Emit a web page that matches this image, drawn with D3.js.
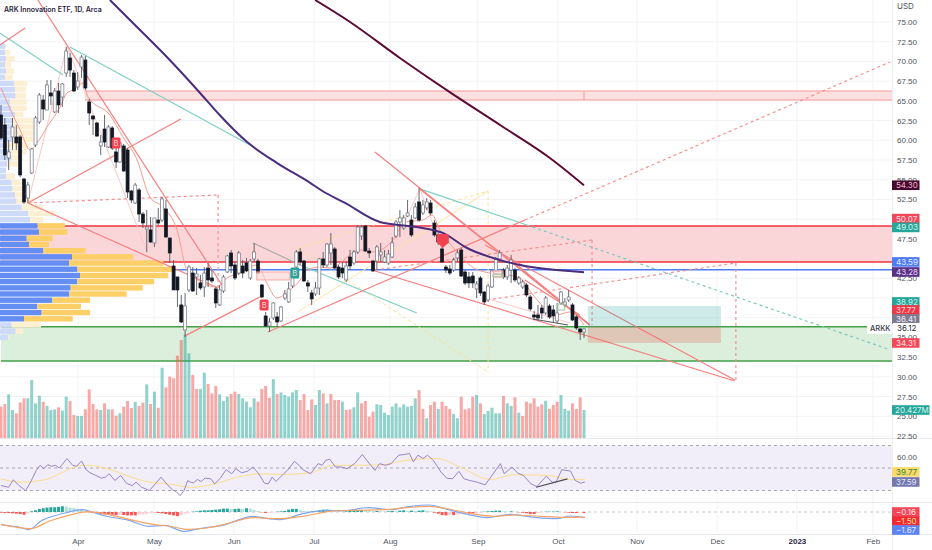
<!DOCTYPE html>
<html>
<head>
<meta charset="utf-8">
<script src="https://cdn.jsdelivr.net/npm/d3@7"></script>
<style>
  body { margin: 0; background: #fff; }
  svg { display: block; font-family: Inter, "Noto Sans", sans-serif; }
  .axis text { font-size: 8px; fill: #50535e; }
  .axis path, .axis line { display: none; }
</style>
</head>
<body>
<div id="chart"></div>
<script>
// Candles as [open, high, low, close]
const candles = [
  [63.21,64.48,60.04,60.29],[61.94,62.83,57.5,58.14],[57.76,60.04,56.23,58.52],[60.42,62.83,58.77,61.69],[60.42,61.94,58.77,59.66],
  [60.42,60.67,55.35,55.6],[55.09,55.22,51.92,52.18],[52.68,54.71,52.05,54.33],[55.85,59.02,55.73,58.9],[59.4,63.08,59.15,62.83],
  [62.32,66,62.07,65.74],[65.11,65.74,62.57,63.97],[63.84,67.65,63.84,67.01],[66,67.65,64.48,65.62],[63.59,66.63,63.46,66.25],
  [66.25,67.27,63.46,64.48],[65.49,67.27,64.22,67.14],[68.53,71.83,68.03,71.32],[70.43,71.07,68.03,68.91],[68.53,68.91,66.13,66.25],
  [66.76,68.66,66.38,67.52],[69.29,70.82,67.9,70.56],[70.18,70.69,66.38,66.63],[64.86,65.24,61.94,63.46],[63.08,63.21,60.67,62.7],
  [62.19,62.32,60.42,60.54],[59.28,60.67,58.14,59.78],[61.43,63.21,59.15,59.78],[59.15,61.94,59.02,61.69],[61.56,61.81,58.77,59.02],
  [58.52,59.15,56.49,57.25],[57.25,59.78,57.12,59.66],[59.28,59.53,55.98,56.11],[58.77,59.02,52.68,53.44],[53.57,53.7,52.05,52.43],
  [52.05,54.59,51.92,54.33],[53.7,53.95,49.64,50.65],[50.65,50.91,48.88,49.51],[48.75,51.16,45.84,49],[48.63,50.27,46.98,47.1],
  [46.98,50.15,46.47,50.15],[49.89,51.42,49.26,49.51],[49.89,52.81,49.64,52.56],[51.29,52.43,47.61,47.74],[47.61,47.61,44.44,45.71],
  [44.06,44.82,41.02,41.02],[42.67,42.67,38.86,41.02],[39.12,40.38,36.83,36.96],[35.95,40.64,35.06,38.99],[41.02,44.19,40.76,43.93],
  [43.17,43.93,40.76,40.89],[42.67,43.8,40.38,43.05],[41.91,42.92,41.02,41.27],[41.4,43.93,40.13,43.17],[43.8,44.44,41.4,42.29],
  [42.54,43.55,41.91,42.16],[41.15,41.4,38.73,39.37],[39.12,41.65,38.99,41.02],[40.89,42.92,40.64,42.67],[43.3,45.46,43.17,45.33],
  [45.71,46.09,43.17,44.06],[44.19,44.57,42.29,42.54],[43.17,45.96,42.92,45.71],[44.06,44.82,42.54,43.17],[44.44,45.08,43.3,43.43],
  [42.54,44.95,42.29,44.69],[44.95,46.98,44.57,45.84],[44.69,44.95,43.05,43.17],[41.65,41.78,40,40.13],[37.72,38.23,36.33,36.45],
  [36.45,37.47,35.69,36.96],[37.47,39.5,37.21,39.37],[37.6,38.23,36.33,36.96],[37.09,38.99,36.96,38.86],[40,41.02,39.75,40.51],
  [39.5,42.03,39.37,41.15],[41.52,42.92,41.27,42.79],[43.93,46.09,43.55,45.84],[45.84,46.34,44.19,44.57],[44.69,44.82,42.03,42.16],
  [41.91,42.29,40.76,41.52],[40.64,41.02,39.12,39.88],[40.51,42.03,40.26,41.27],[41.27,45.08,40.38,44.95],[44.95,45.84,43.8,44.19],
  [44.19,46.98,43.93,46.85],[45.71,48.25,44.19,46.85],[46.22,46.47,43.68,43.8],[43.93,44.19,42.41,42.67],[43.8,44.57,42.54,43.17],
  [42.29,44.57,42.03,44.06],[45.2,46.09,43.55,44.06],[44.44,46.09,44.19,45.84],[45.84,49.26,45.58,49],[47.86,49.26,47.36,49],
  [49.13,49.26,45.84,45.96],[45.96,46.34,45.08,45.71],[44.69,44.82,43.3,43.43],[44.69,46.72,43.55,46.47],[45.46,46.98,44.57,45.84],
  [44.57,46.09,44.44,45.2],[44.44,46.09,44.19,45.58],[45.2,47.74,45.08,46.98],[47.86,49.89,47.61,49.64],[49.64,51.16,47.74,50.15],
  [48.88,50.53,48.63,50.15],[50.4,52.43,50.27,50.78],[49.89,50.53,47.74,47.99],[50.15,52.05,50.02,51.54],[52.18,53.95,49.64,49.89],
  [50.78,52.43,50.53,51.8],[51.42,52.68,51.16,52.18],[52.05,52.43,50.53,50.78],[49.51,49.89,47.74,47.99],[47.99,48.25,46.72,47.1],
  [46.22,46.47,44.44,44.57],[43.93,44.19,43.17,43.55],[43.68,44.19,42.92,43.17],[43.55,45.08,43.3,44.82],[45.08,46.09,44.57,45.71],
  [46.09,46.34,42.66,42.79],[43.3,43.55,41.65,41.9],[42.67,43.3,41.27,41.91],[42.79,43.3,41.27,41.91],[41.15,42.16,40,41.78],
  [42.54,42.79,40.26,40.64],[40.76,40.89,39.12,39.5],[39.75,41.78,39.5,41.52],[41.4,43.55,41.27,43.43],[43.43,45.2,43.3,44.95],
  [44.95,46.09,44.57,45.71],[43.55,43.8,42.41,42.67],[42.67,44.19,42.29,43.8],[43.55,45.46,41.91,44.82],[43.55,43.8,42.03,42.29],
  [41.91,42.79,41.65,42.54],[41.4,42.29,41.15,42.03],[41.65,41.91,40.13,40.38],[40.13,40.38,38.36,38.61],[37.85,38.36,37.21,37.59],
  [37.85,39.12,37.09,37.47],[38.73,39.12,37.34,38.1],[38.1,40.26,37.85,40],[38.99,39.24,37.34,37.59],[38.48,39.12,36.96,37.72],
  [37.09,39.37,36.83,38.1],[39.37,40.89,39.12,40.76],[39.12,40,38.86,39.5],[39.75,41.02,39.5,40.13],[39.12,39.37,37.09,37.21],
  [37.6,37.85,35.95,36.2],[36.07,36.2,34.68,35.69],[35.69,36.2,34.93,36.07]
];

// Volume in millions, direction read separately (r = red, t = teal)
const volumes = [
  22.9,24.8,31.9,20.4,18,26,29,29,42.3,25.3,30.9,26.5,23.4,20.4,20.9,22.4,20,30.2,27,16.8,
  16.1,16.1,20.9,35.5,24.8,20.9,20.4,25.3,20.9,20.9,16.3,18,22.9,27,21.9,26.3,23.4,25.8,39.2,24.8,
  33.8,22.1,51.3,37,44.8,43.6,60.1,71.5,75.7,61.8,46,35.8,35.8,47.7,39.4,32.6,38,31.9,27,30.2,
  32.1,33.8,32.1,29,26.5,22.4,29,26.5,35.8,38,29.4,43,32.1,33.3,31.4,30.2,33.3,35,27.7,32.1,20.4,
  28.2,24.1,35,32.6,25.3,32.1,27.7,27.7,26.5,20.4,20.9,22.4,33.3,25.3,27,15.6,19.2,24.6,24.1,
  18.5,16.8,22.9,25.3,22.4,24.6,22.9,23.4,29,35,21.2,14.4,24.1,26.5,21.2,26.5,23.4,21.2,17.5,14.4,
  30.2,20.9,21.7,30.2,31.4,25.3,17.5,19.7,22.1,18,18,30.7,25.3,23.4,29.7,18.5,16.1,26.5,25.3,29,
  22.9,24.6,27.2,21.2,24.1,26.5,31.4,21.2,20,25.3,21.2,29.7,20.427
];
const volumeDir = ("rrttrrrttt" + "trtttrttrr" + "ttrrrrtrtr" + "rtrrrtrrtr" + "trtrrrrrtt" + "rrttrrrttt" + "rrtttttrrr" + "rtrtttttrr" + "r" +
  "rttrtrrrtr" + "rttrrrrttt" + "ttttttttr" + "rtrrtrrrtt" + "rrrrtrttttt" + "rttrtrrrrr" + "rtrrrtttrrrt").split("");

// Moving averages and the thin band line, [bar index, price]
const ma100Idx = [28.4,34.4,44,51.9,57,64.1,72,80.6,83.7,89.7,98.8,108.4,115.2,121.5,130,135.3,142.3,152];
const ma100 = [77.79,74.87,70.18,66,63.2,59.8,57.1,54.6,53.6,52.05,49.64,49,48.25,46.34,44.82,44.19,43.68,43.28];
const ma200Idx = [81.9,91,104,117,130.1,143.1,152];
const ma200 = [77.79,75,70.44,66.1,61.94,57.76,54.3];
const bandIdx = [0,3.1,5,7.6,9.4,12,15.4,17.2,19.3,21.4,22.7,28.4,31.8,35.5,38.8,42.2,45.9,48.5,56.3,58.9,62.3,66.7,69.3,71.9,75.3,78,79.8,83.2,85.8,93.6,97,102.2,105.3,110,112.4,114.4,117.8,124.3,135.3,138.7,144.9,148.3,152];
const band = [66.63,63.2,61.3,58.77,59.66,61.69,64.22,66,66.5,67.27,65.49,63.2,60.42,57.5,52.81,51.54,48.63,43.55,41.4,42.54,43.17,44.19,41.91,40,41,42.28,43.55,43.93,43.8,46.09,45.84,47.36,49.64,49.89,50.53,48.63,46.47,43.55,42.54,40.38,37.85,38.23,36.58];

// RSI pane
const rsiIdx = [0,2,3.2,4.7,6.4,7.7,9.2,10.2,11.2,12.2,13.2,14.2,15.2,17.2,18.7,19.7,21,22.2,23.2,24.7,26.2,27.2,28.2,29.7,31.2,32.7,34.2,35.2,36.7,38.7,40.2,41.7,43.2,44.7,45.7,46.7,47.7,48.7,49.4,50.2,51.2,52.2,53.2,54.7,55.7,57.2,58.7,60.2,61.2,62.7,64.2,65.7,67.2,68.7,69.7,70.7,71.7,73.7,74.7,76.5,77.7,78.7,80.7,82.7,83.7,84.7,85.7,87.2,88.7,90.2,92.2,94.2,95.7,97.5,98.7,100.2,101.7,103.7,105.2,106.5,107.5,108.7,110,111.2,112.7,114.7,116.2,117.7,119.4,120.7,122.2,124.2,126.2,127.7,130.2,131.2,133.2,134.7,136.2,138.2,139.7,142.2,143.7,144.7,146.2,147.2,148.5,149.7,151.2,152.2];
const rsi = [34.4,32.9,39.5,34.4,29.9,37.4,47.9,52.4,49.4,53,51.5,52.4,50,58.4,52.4,51.5,56.3,48.5,45.8,43.4,41,41.9,44.9,38.9,43.4,36.5,34.4,37.4,32.9,29.9,35.9,41.9,35.9,30.5,29,25.4,29.9,38.9,37.4,36.8,39.8,38,41,40.4,35.9,41,48.5,44.9,49.4,45.8,47,50.9,44.9,36.5,35.9,41.9,38,44.9,47.9,56,52.4,48.5,44.9,53.9,52.4,56.9,57.8,50.9,50.9,49.4,53.9,62,55.4,47.9,53.9,52.4,53.9,61.4,62,62.9,55.4,61.4,58.4,61.4,56.9,46.4,41,40.4,47,40.4,38.9,37.4,35,41.9,53.9,44.9,50.9,45.5,43.4,35.9,33.5,42.8,37.4,37.4,48.5,47.9,47.3,38.9,36.5,37.59];
const rsiMaIdx = [0,4.7,11.7,16.2,19.7,22.2,28.7,32.7,38.7,43.7,49.7,55.7,61.7,67.7,73.7,80.7,86.7,92.7,99.7,104.7,113.7,119.7,127.7,133.7,142.7,148.7,152.2];
const rsiMa = [40.4,37.4,39.8,46.4,51.5,52.4,48.5,43.4,37.4,35.9,32.9,35.9,41.9,44.9,44.3,45.8,52.4,52.4,53,56.3,58.4,50.9,39.8,44,43.4,39.5,39.77];
const rsiLevels = [70,50,30];
const rsiTrend = [[139.5,32.9],[147.7,40.4]];

// MACD pane
const macdIdx = [0,2.7,4.7,7.2,10.7,13.7,16.7,21.2,23.7,27.2,32.7,38.7,42.7,47.7,52.7,57.7,65.7,69.7,72.7,78.7,84.7,89.7,95.7,101.7,106.7,111.7,115.7,121.7,126.7,132.7,139.7,144.7,148.7,152.2];
const macd = [-3.72,-4.12,-4.41,-5.19,-2.45,-1.18,-0.29,0.69,0,-1.18,-2.25,-4.21,-3.92,-5.68,-4.7,-3.92,-1.27,-1.96,-2.25,-0.49,0.49,0.39,1.27,0.69,1.67,2.06,0.98,-0.69,-1.67,-0.69,-1.67,-1.96,-1.18,-1.67];
const signalIdx = [0,3.7,7.7,12.7,17.7,22.7,27.7,33.7,39.7,43.7,48.7,53.7,59.7,65.7,71.7,78.7,85.7,91.7,99.7,105.7,111.7,116.7,122.7,128.7,133.7,140.7,146.7,152.2];
const signal = [-3.63,-4.41,-4.9,-2.65,-0.98,0.1,-0.69,-2.25,-3.63,-4.12,-5.1,-4.7,-3.23,-1.67,-1.96,-1.27,0.2,0.49,0.69,1.27,1.67,0.88,-0.49,-1.27,-0.88,-1.27,-1.57,-1.5];
const macdHist = [
  -0.2,-0.3,-0.3,-0.4,-0.5,-0.6,-0.8,-0.4,
  0.2,0.5,0.9,1.1,1.3,1.4,1.4,1.5,1.7,1.6,1.3,1.2,1.0,
  0.8,0.3,-0.1,-0.3,
  -0.4,-0.6,-0.7,-0.7,-0.8,-0.9,-0.8,-0.9,-1.0,-1.0,-1.0,-0.8,-0.7,-0.6,-0.4,-0.3,-0.3,-0.4,-0.6,-0.8,-1.0,-1.2,-0.9,
  -0.5,-0.2,0.1,0.2,0.4,
  0.5,0.5,0.6,0.7,0.8,1.0,1.0,0.9,0.9,1.0,0.9,1.1,1.0,0.6,0.3,
  -0.1,-0.3,-0.2,-0.1,0.1,0.2,0.3,
  0.7,0.9,0.9,0.5,0.3,0.2,0.2,0.3,0.5,0.7,0.7,
  0.5,0.4,0.3,0.2,0.2,0.3,0.4,0.6,0.6,0.5,0.4,0.3,0.3,0.2,0.1,0.2,0.3,0.2,0.4,0.5,
  0.3,0.4,0.3,0.4,0.5,0.4,0.2,-0.2,-0.5,-0.9,
  -1.0,-0.8,-0.9,-0.7,-0.5,-0.4,-0.4,-0.4,-0.3,-0.2,
  0.1,0.2,0.3,0.4,0.4,0.2,0.1,0.2,0.1,-0.1,-0.2,-0.4,-0.6,-0.6,
  -0.3,-0.1,0.1,0.1,0.1,0.2,0.1,-0.1,-0.2,-0.3,-0.3,-0.2,-0.3
];

// Volume profile rows, price level with up volume and total volume
const vpPrices = [71.93,71.14,70.36,69.57,68.79,68,67.21,66.43,65.64,64.86,64.07,63.29,62.5,61.71,60.93,60.14,59.36,58.57,57.79,57,56.21,55.43,54.64,53.86,53.07,52.29,51.5,50.72,49.93,49.15,48.36,47.57,46.79,46,45.22,44.43,43.65,42.86,42.08,41.29,40.51,39.72,38.93,38.15,37.36,36.58,35.79,35];
const vpUp = [15,15,18,15,18,15,42,45,47,30,35,45,38,40,30,38,22,30,35,22,18,18,35,38,45,50,65,85,90,113,117,80,87,130,216,207,232,240,232,212,208,157,112,125,72,35,47,25];
const vpTotal = [18,30,45,33,42,38,82,78,78,80,80,70,100,105,100,100,90,80,68,55,18,45,65,70,75,100,130,165,130,195,202,158,147,257,400,490,517,505,462,428,380,270,243,270,218,123,70,28];
const valueArea = [49.6, 37];

// Price zones
const resistanceThin = [66.25, 65.11];
const resistanceBand = [49.13, 44.57];
const supportBand = [36.36, 32.0];
const blueLevel = 43.59;
const trade = { start: 153, end: 187.7, target: 38.99, entry: 36.36, stop: 34.31 };

// Drawn trend lines as [i1, p1, i2, p2]
const redLines = [
  [9.6,77.79,57.6,41.65],[7,52.05,56.6,41.27],[7,52.05,46.9,62.7],[-0.3,72.08,6.3,74.24],
  [48,35.2,67.5,40.13],[69.6,35.69,136.6,49.89],[97.5,58.52,153.5,36.58],[109.2,53.83,153.5,36.58],
  [97.5,43.43,191.3,29.48],[126.2,46.72,191.3,29.6],[133,44.82,153.5,36.58],[136.6,42.29,150.9,37.85]
];
const paleLines = [
  [7,52.05,17.2,71.96],[17.2,71.96,38.1,45.84],[103,47.36,109.2,53.83],[109.2,53.83,116.3,44.57],[126.2,40,148.3,36.83]
];
const redDashed = [
  [7,52.05,56.6,53.06],[56.6,53.06,56.6,41.27],[136.6,49.89,231.8,69.93],
  [97.5,43.55,154.1,47.36],[154.1,47.36,154.1,36.58],[126.7,39.75,191.6,44.44],[191.6,44.44,191.6,29.6]
];
const tealLines = [
  [-0.3,73.6,16.2,68.28],[18,71.83,64.9,59.4],[78,44.19,108.4,38.1],[109.2,53.83,137.1,49.26]
];
const tealDashed = [[137.1,49.26,231.2,33.54]];
const yellowLines = [[77.4,38.23,127,53.57]];
const yellowDashed = [[77.4,46.34,127,53.57],[127,53.57,127,30.62],[77.4,46.34,127,30.62]];
const grayLines = [[65.7,46.98,78,44.19]];
const darkLines = [[138.7,37.34,147.8,36.58]];

// Small drawn rectangles as [i1, i2, p1, p2]
const pinkBoxes = [[66.7,75.3,43.3,42.29],[128.3,130.9,43.43,42.67]];
const greenBoxes = [[145.2,147,39.24,38.48],[128.3,130.9,43,42.67]];

// Signal labels as [bar index, price, text]
const buySignals = [[30,59.66,"B"],[68.6,39.12,"B"]];
const tealSignals = [[76.6,43.17,"B"]];

// Axis ticks, the ones at 37.50, 40.00 and 50.00 sit fully behind value tags
const priceTicks = [22.5,25,27.5,30,32.5,35,37.5,40,42.5,45,47.5,50,52.5,55,57.5,60,62.5,65,67.5,70,72.5,75];
const hiddenTicks = [37.5,40,50];
const monthIdx = [20.07,39.9,60.7,81.6,101.4,124.3,145.2,165.8,186.7,207.5,227.3];
const monthLabels = ["Apr","May","Jun","Jul","Aug","Sep","Oct","Nov","Dec","2023","Feb"];

// Last value labels on the price axis: text, place on the scale, background, text colour
const priceTags = [
  ["54.30",54.3,"#45082f","#f4b6c8"],["50.07",50.07,"#f5475a","#ffe3e3"],["49.03",48.95,"#26a69a","#d8f3ef"],
  ["43.59",44.57,"#4f7df5","#e3ebff"],["43.28",43.3,"#5a2f86","#e6dcf5"],["38.92",39.5,"#26a69a","#d8f3ef"],
  ["37.77",38.48,"#f23645","#ffd9dc"],["36.41",37.34,"#7d7a90","#eeeef5"],["34.31",34.3,"#f5475a","#ffe3e3"]
];
const rsiTags = [["39.77",46.5,"#fdd86a","#2e8b3a"],["37.59",37.6,"#7378ad","#e6e6f7"]];
const macdTags = [["\u22120.16",0,"#f5475a","#ffe3e3"],["\u22121.50",-2.65,"#f52a36","#ffe58a"],["\u22121.67",-5.3,"#5b85f5","#e3ebff"]];

// Layout
const width = 932;
const height = 550;
const paneRight = 892;
const bodyW = 3;

const svg = d3.select("#chart")
    .append("svg")
    .attr("width", width)
    .attr("height", height);

svg.append("defs").append("clipPath").attr("id", "main-clip")
    .append("rect").attr("width", paneRight).attr("height", 438);

// Scales
const x = d3.scaleLinear().domain([0, 152]).range([1, 584]);
const y = d3.scaleLinear().domain([75, 22.5]).range([22, 436]);
const yVol = d3.scaleLinear().domain([0, 100]).range([438, 301]);
const yRsi = d3.scaleLinear().domain([70, 30]).range([445.5, 490.5]);
const yMacd = d3.scaleLinear().domain([0, -5.7]).range([512, 531.4]);
const vpX = d3.scaleLinear().domain([0, 930]).range([0, 310]);

// Grid
const grid = svg.append("g").attr("stroke", "#f3f3f6").attr("stroke-width", 1);
grid.selectAll(".h").data(priceTicks).enter().append("line")
    .attr("x1", 0).attr("x2", paneRight)
    .attr("y1", (d) => y(d)).attr("y2", (d) => y(d));
grid.selectAll(".v").data(monthIdx).enter().append("line")
    .attr("x1", (d) => x(d)).attr("x2", (d) => x(d))
    .attr("y1", 0).attr("y2", 534);

const main = svg.append("g").attr("clip-path", "url(#main-clip)");

// Zones under everything
function zone(range, fill, stroke, startIdx, strokeW) {
    main.append("rect")
        .attr("x", x(startIdx)).attr("width", paneRight - x(startIdx))
        .attr("y", y(range[0])).attr("height", y(range[1]) - y(range[0]))
        .attr("fill", fill);
    range.forEach((p) => {
        main.append("line")
            .attr("x1", x(startIdx)).attr("x2", paneRight)
            .attr("y1", y(p)).attr("y2", y(p))
            .attr("stroke", stroke).attr("stroke-width", strokeW);
    });
}
zone(resistanceThin, "#fde0e0", "#f59a9a", 21.9, 1);
zone(resistanceBand, "#fbd6d9", "#f2323f", 0, 1.5);
zone(supportBand, "#dcefdc", "#43a047", 0, 1.5);
main.append("line")
    .attr("x1", 0).attr("x2", paneRight)
    .attr("y1", y(blueLevel)).attr("y2", y(blueLevel))
    .attr("stroke", "#4f7df5").attr("stroke-width", 1.5);
main.append("line")
    .attr("x1", x(152)).attr("x2", x(152))
    .attr("y1", y(resistanceThin[0])).attr("y2", y(resistanceThin[1]))
    .attr("stroke", "#f59a9a");

// Volume profile
const rowH = 5.4;
const vp = main.append("g");
vpPrices.forEach((p, i) => {
    const inArea = p <= valueArea[0] && p >= valueArea[1];
    vp.append("rect")
        .attr("x", 0).attr("y", y(p) - rowH / 2)
        .attr("width", vpX(vpUp[i])).attr("height", rowH)
        .attr("fill", inArea ? "#658ef5" : "#cddaf9");
    vp.append("rect")
        .attr("x", vpX(vpUp[i])).attr("y", y(p) - rowH / 2)
        .attr("width", vpX(vpTotal[i] - vpUp[i])).attr("height", rowH)
        .attr("fill", inArea ? "#fdcf67" : "#fdefd2");
});

// Volume bars
main.selectAll(".vol").data(volumes).enter().append("rect")
    .attr("x", (d, i) => x(i) - 1.5)
    .attr("width", 3)
    .attr("y", (d) => yVol(d))
    .attr("height", (d) => 438 - yVol(d))
    .attr("fill", (d, i) => (volumeDir[i] === "t" ? "#26a69a" : "#ef5350"))
    .attr("opacity", 0.5);

// Trend lines helper
function drawLines(list, stroke, dash, strokeW) {
    main.append("g").selectAll("line").data(list).enter().append("line")
        .attr("x1", (d) => x(d[0])).attr("y1", (d) => y(d[1]))
        .attr("x2", (d) => x(d[2])).attr("y2", (d) => y(d[3]))
        .attr("stroke", stroke)
        .attr("stroke-width", strokeW)
        .attr("stroke-dasharray", dash);
}
drawLines(paleLines, "#fbc9c9", null, 1);
drawLines(yellowLines, "#fde7a0", null, 1);
drawLines(yellowDashed, "#fde08a", "3,3", 1);
drawLines(tealLines, "#7fd0c3", null, 1.2);
drawLines(tealDashed, "#7fc8bd", "3,3", 1.2);
drawLines(grayLines, "#a9aca6", null, 1.2);
drawLines(redLines, "#f77f7f", null, 1.2);
drawLines(redDashed, "#f79090", "3,3", 1.2);

// Thin band line and moving averages
const pathLine = (ys, curve) => d3.line().x((d) => x(d[0])).y((d) => ys(d[1])).curve(curve || d3.curveLinear);
main.append("path")
    .attr("d", pathLine(y, d3.curveMonotoneX)(d3.zip(bandIdx, band)))
    .attr("fill", "none").attr("stroke", "#f79a8e").attr("stroke-width", 1);

// Candles
const candle = main.append("g").selectAll("g").data(candles).enter().append("g");
candle.append("line")
    .attr("x1", (d, i) => x(i)).attr("x2", (d, i) => x(i))
    .attr("y1", (d) => y(d[1])).attr("y2", (d) => y(d[2]))
    .attr("stroke", "#555862").attr("stroke-width", 0.9);
candle.append("rect")
    .attr("x", (d, i) => x(i) - bodyW / 2)
    .attr("width", bodyW)
    .attr("y", (d) => y(Math.max(d[0], d[3])))
    .attr("height", (d) => Math.max(1, Math.abs(y(d[0]) - y(d[3]))))
    .attr("fill", (d) => (d[3] >= d[0] ? "#fff" : "#131722"))
    .attr("stroke", (d) => (d[3] >= d[0] ? "#6f7280" : "#131722"))
    .attr("stroke-width", 0.7);

drawLines(darkLines, "#55565e", null, 1.2);

main.append("path")
    .attr("d", pathLine(y, d3.curveMonotoneX)(d3.zip(ma100Idx, ma100)))
    .attr("fill", "none").attr("stroke", "#4a2d7f").attr("stroke-width", 2);
main.append("path")
    .attr("d", pathLine(y, d3.curveMonotoneX)(d3.zip(ma200Idx, ma200)))
    .attr("fill", "none").attr("stroke", "#5e0b34").attr("stroke-width", 2);

// Trade boxes
main.append("rect")
    .attr("x", x(trade.start)).attr("width", x(trade.end) - x(trade.start))
    .attr("y", y(trade.target)).attr("height", y(trade.entry) - y(trade.target))
    .attr("fill", "#26a69a").attr("opacity", 0.22);
main.append("rect")
    .attr("x", x(trade.start)).attr("width", x(trade.end) - x(trade.start))
    .attr("y", y(trade.entry)).attr("height", y(trade.stop) - y(trade.entry))
    .attr("fill", "#e8605a").attr("opacity", 0.28);

// Small marked boxes
main.selectAll(".pink").data(pinkBoxes).enter().append("rect")
    .attr("x", (d) => x(d[0])).attr("width", (d) => x(d[1]) - x(d[0]))
    .attr("y", (d) => y(d[2])).attr("height", (d) => y(d[3]) - y(d[2]))
    .attr("fill", "#fbd2d2").attr("fill-opacity", 0.6).attr("stroke", "#f7a8a8");
main.selectAll(".green").data(greenBoxes).enter().append("rect")
    .attr("x", (d) => x(d[0])).attr("width", (d) => x(d[1]) - x(d[0]))
    .attr("y", (d) => y(d[2])).attr("height", (d) => y(d[3]) - y(d[2]))
    .attr("fill", "none").attr("stroke", "#9ccc9c");

// Signals
function drawSignals(list, fill) {
    const g = main.append("g").selectAll("g").data(list).enter().append("g")
        .attr("transform", (d) => `translate(${x(d[0])},${y(d[1])})`);
    g.append("rect").attr("x", -4.5).attr("y", -5.5).attr("width", 9).attr("height", 11).attr("rx", 1.5).attr("fill", fill);
    g.append("text").attr("text-anchor", "middle").attr("y", 3).attr("font-size", 7.5).attr("fill", "#ffd9d9").text((d) => d[2]);
}
drawSignals(buySignals, "#f5404f");
drawSignals(tealSignals, "#26a69a");

// Red sell marker near the August drop
const sell = main.append("g").attr("transform", `translate(${x(115.2)},${y(47.36)})`);
sell.append("rect").attr("x", -6).attr("y", -6).attr("width", 12).attr("height", 10).attr("rx", 2).attr("fill", "#f2424f");
sell.append("path").attr("d", d3.line()([[-4, 4], [4, 4], [0, 8]])).attr("fill", "#f2424f");

// RSI pane
svg.append("rect")
    .attr("x", 0).attr("width", paneRight)
    .attr("y", yRsi(70)).attr("height", yRsi(30) - yRsi(70))
    .attr("fill", "#f1eefa");
svg.selectAll(".rsi-level").data(rsiLevels).enter().append("line")
    .attr("x1", 0).attr("x2", paneRight)
    .attr("y1", (d) => yRsi(d)).attr("y2", (d) => yRsi(d))
    .attr("stroke", "#a9a9b2").attr("stroke-dasharray", "3,3");
svg.append("path")
    .attr("d", pathLine(yRsi, d3.curveMonotoneX)(d3.zip(rsiMaIdx, rsiMa)))
    .attr("fill", "none").attr("stroke", "#fbe08a").attr("stroke-width", 1);
svg.append("path")
    .attr("d", pathLine(yRsi)(d3.zip(rsiIdx, rsi)))
    .attr("fill", "none").attr("stroke", "#9a84c9").attr("stroke-width", 1);
svg.append("path")
    .attr("d", pathLine(yRsi)(rsiTrend))
    .attr("fill", "none").attr("stroke", "#4b4b55").attr("stroke-width", 1.2);

// MACD pane
svg.append("line")
    .attr("x1", 0).attr("x2", paneRight)
    .attr("y1", yMacd(0)).attr("y2", yMacd(0))
    .attr("stroke", "#c9c9d0").attr("stroke-dasharray", "3,3");
svg.selectAll(".hist").data(macdHist).enter().append("rect")
    .attr("x", (d, i) => x(i) - 1.5)
    .attr("width", 3)
    .attr("y", (d) => Math.min(yMacd(d), yMacd(0)))
    .attr("height", (d) => Math.abs(yMacd(d) - yMacd(0)))
    .attr("fill", (d, i) => {
        const prev = i > 0 ? macdHist[i - 1] : d;
        if (d >= 0) return d >= prev ? "#26a69a" : "#b2dfdb";
        return d <= prev ? "#ff5252" : "#ffcdd2";
    });
svg.append("path")
    .attr("d", pathLine(yMacd, d3.curveMonotoneX)(d3.zip(macdIdx, macd)))
    .attr("fill", "none").attr("stroke", "#7ea6f5").attr("stroke-width", 1.2);
svg.append("path")
    .attr("d", pathLine(yMacd, d3.curveMonotoneX)(d3.zip(signalIdx, signal)))
    .attr("fill", "none").attr("stroke", "#f7a465").attr("stroke-width", 1.2);

// Pane separators
svg.selectAll(".sep").data([438.5, 502.5, 534.5]).enter().append("line")
    .attr("x1", 0).attr("x2", width)
    .attr("y1", (d) => d).attr("y2", (d) => d)
    .attr("stroke", "#e6e7ec");
svg.append("line")
    .attr("x1", paneRight + 0.5).attr("x2", paneRight + 0.5)
    .attr("y1", 0).attr("y2", height)
    .attr("stroke", "#eceded");

// Axes
const yAxis = d3.axisRight(y)
    .tickValues(priceTicks.filter((d) => !hiddenTicks.includes(d)))
    .tickFormat(d3.format(".2f")).tickSize(0).tickPadding(5);
svg.append("g").attr("class", "axis").attr("transform", `translate(${paneRight},0)`).call(yAxis);

const rsiAxis = d3.axisRight(yRsi).tickValues([60]).tickFormat(d3.format(".2f")).tickSize(0).tickPadding(5);
svg.append("g").attr("class", "axis").attr("transform", `translate(${paneRight},0)`).call(rsiAxis);

const xAxis = d3.axisBottom(x).tickValues(monthIdx).tickFormat((d, i) => monthLabels[i]).tickSize(0).tickPadding(4);
const xAxisG = svg.append("g").attr("class", "axis").attr("transform", "translate(0,534)").call(xAxis);
xAxisG.selectAll("text")
    .attr("font-weight", (d, i) => (monthLabels[i] === "2023" ? 700 : 400))
    .style("fill", (d, i) => (monthLabels[i] === "2023" ? "#2a2440" : "#50535e"));

// Coloured last value tags
function drawTags(list, scale) {
    const g = svg.append("g").selectAll("g").data(list).enter().append("g")
        .attr("transform", (d) => `translate(${paneRight},${scale(d[1])})`);
    g.append("rect").attr("x", 0).attr("y", -4.8).attr("width", 27.5).attr("height", 9.6).attr("fill", (d) => d[2]);
    g.append("text").attr("x", 4).attr("y", 3).attr("font-size", 8).attr("fill", (d) => d[3]).text((d) => d[0]);
}
drawTags(priceTags, y);
drawTags(rsiTags, yRsi);
drawTags(macdTags, yMacd);

const volTag = svg.append("g").attr("transform", `translate(${paneRight},${yVol(20.427)})`);
volTag.append("rect").attr("x", 0).attr("y", -4.8).attr("width", 37.5).attr("height", 9.6).attr("fill", "#26a69a");
volTag.append("text").attr("x", 3).attr("y", 3).attr("font-size", 8).attr("fill", "#d8f3ef").text("20.427M");

// ARKK price label
svg.append("rect").attr("x", 867).attr("y", y(36.2) - 7).attr("width", 25).attr("height", 13).attr("fill", "#fff");
svg.append("text").attr("x", 870).attr("y", y(36.2) + 3).attr("font-size", 7.5).attr("font-weight", 500).attr("fill", "#3a3d4a").text("ARKK");
svg.append("rect").attr("x", 893).attr("y", y(36.2) - 5).attr("width", 30).attr("height", 9).attr("fill", "#fff");
svg.append("text").attr("x", 897).attr("y", y(36.2) + 3).attr("font-size", 8).attr("fill", "#2a2d38").text("36.12");

// Title and currency
svg.append("text").attr("x", 4).attr("y", 12).attr("font-size", 7).attr("font-weight", 600).attr("fill", "#2a2440").text("ARK Innovation ETF, 1D, Arca");
svg.append("text").attr("x", 897).attr("y", 9).attr("font-size", 8).attr("fill", "#50535e").text("USD");
</script>
</body>
</html>
